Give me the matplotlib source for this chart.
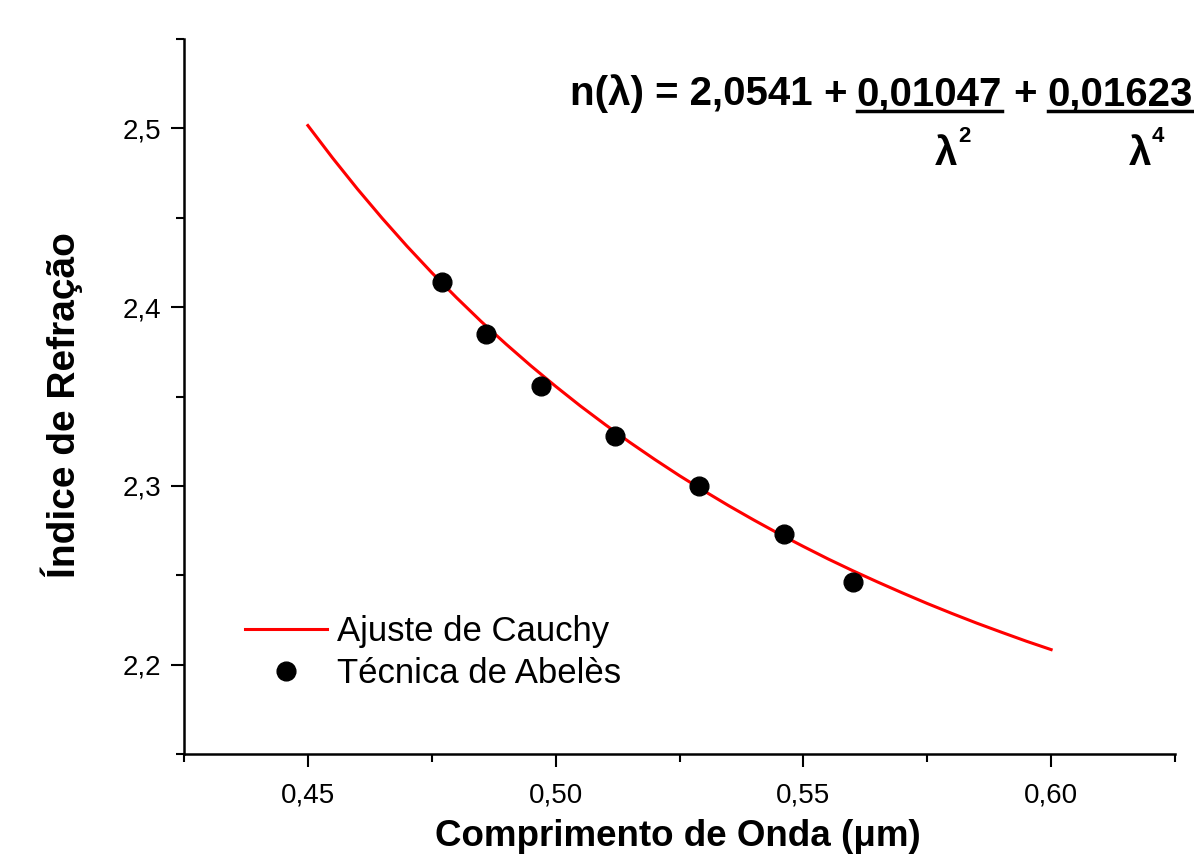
import matplotlib
matplotlib.use('Agg')
import matplotlib.pyplot as plt
from matplotlib.lines import Line2D
from matplotlib.ticker import MultipleLocator, FuncFormatter

plt.rcParams['font.family'] = ['Liberation Sans', 'DejaVu Sans']

# Cauchy fit curve
lam_fit = [0.450, 0.455, 0.460, 0.465, 0.470, 0.475, 0.480, 0.485,
           0.490, 0.495, 0.500, 0.505, 0.510, 0.515, 0.520, 0.525,
           0.530, 0.535, 0.540, 0.545, 0.550, 0.555, 0.560, 0.565,
           0.570, 0.575, 0.580, 0.585, 0.590, 0.595, 0.600]
n_fit = [2.5016, 2.4834, 2.4661, 2.4497, 2.4341, 2.4193, 2.4053, 2.3919,
         2.3793, 2.3672, 2.3557, 2.3447, 2.3343, 2.3243, 2.3148, 2.3057,
         2.2971, 2.2888, 2.2809, 2.2733, 2.2661, 2.2591, 2.2525, 2.2462,
         2.2401, 2.2342, 2.2286, 2.2232, 2.2181, 2.2131, 2.2084]

# Abelès technique measurements
lam_exp = [0.477, 0.486, 0.497, 0.512, 0.529, 0.546, 0.560]
n_exp = [2.414, 2.385, 2.356, 2.328, 2.300, 2.273, 2.246]

W, H = 1194, 866
fig = plt.figure(figsize=(W / 100, H / 100), dpi=100)
ax = fig.add_axes([184 / W, 1 - 754 / H, (1175 - 184) / W, (754 - 39) / H])

ax.plot(lam_fit, n_fit, color='#ff0000', lw=2.2, label='Ajuste de Cauchy', zorder=2)
ax.plot(lam_exp, n_exp, 'o', color='black', ms=13.5, label='Técnica de Abelès', zorder=3)

ax.set_xlim(0.425, 0.625)
ax.set_ylim(2.15, 2.55)

ax.spines['top'].set_visible(False)
ax.spines['right'].set_visible(False)
for s in ('left', 'bottom'):
    ax.spines[s].set_linewidth(1.8)

ax.xaxis.set_major_locator(MultipleLocator(0.05))
ax.xaxis.set_minor_locator(MultipleLocator(0.025))
ax.yaxis.set_major_locator(MultipleLocator(0.1))
ax.yaxis.set_minor_locator(MultipleLocator(0.05))
ax.xaxis.set_major_formatter(FuncFormatter(lambda v, p: f'{v:.2f}'.replace('.', ',')))
ax.yaxis.set_major_formatter(FuncFormatter(lambda v, p: f'{v:.1f}'.replace('.', ',')))
ax.tick_params(which='major', length=9.5, width=1.5, labelsize=20, pad=7)
ax.tick_params(which='minor', length=5.5, width=1.5)
ax.tick_params(axis='x', which='major', pad=11)

fig.text(678 / W, 1 - 836 / H, 'Comprimento de Onda (μm)', ha='center', va='center',
         fontsize=26.5, fontweight='bold')
fig.text(62 / W, 1 - 405 / H, 'Índice de Refração', ha='center', va='center',
         rotation=90, fontsize=28, fontweight='bold')

leg = ax.legend(loc='upper left', bbox_to_anchor=(245 / W, 1 - 615 / H),
                bbox_transform=fig.transFigure, frameon=False, fontsize=25,
                borderpad=0, borderaxespad=0, handlelength=2.35,
                handletextpad=0.3, labelspacing=0.25)

# formula
base = 1 - 105 / H
fs = 29
fig.text(570 / W, base, 'n(λ) = 2,0541', ha='left', va='baseline', fontsize=fs, fontweight='bold')
fig.text(835 / W, base, '+', ha='center', va='baseline', fontsize=fs, fontweight='bold')
fig.text(929.5 / W, base, '0,01047', ha='center', va='baseline', fontsize=fs, fontweight='bold')
fig.text(1025 / W, base, '+', ha='center', va='baseline', fontsize=fs, fontweight='bold')
fig.text(1120 / W, base, '0,01623', ha='center', va='baseline', fontsize=fs, fontweight='bold')
for x0, x1 in ((857, 1002), (1048, 1193)):
    fig.add_artist(Line2D([x0 / W, x1 / W], [1 - 111 / H, 1 - 111 / H], color='black',
                          lw=2.5, transform=fig.transFigure))
for xl, xs, p in ((946, 958, '2'), (1140, 1152, '4')):
    fig.text(xl / W, 1 - 165 / H, 'λ', ha='center', va='baseline', fontsize=fs, fontweight='bold')
    fig.text(xs / W, 1 - 142 / H, p, ha='left', va='baseline', fontsize=16, fontweight='bold')

fig.savefig('out.png', dpi=100)
